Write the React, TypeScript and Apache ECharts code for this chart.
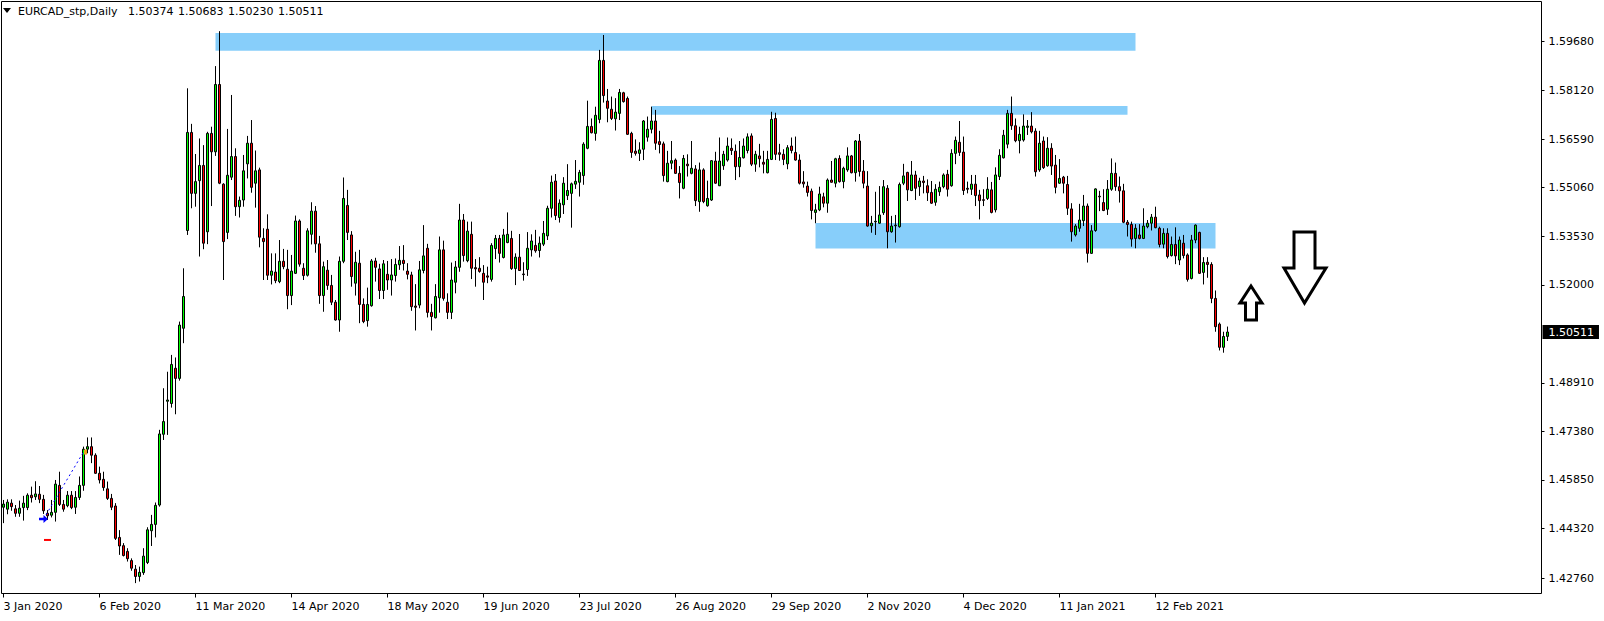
import React, { useEffect, useRef } from 'react';
import * as echarts from 'echarts';

// ---- data ----
const opens = [
1.4499,1.4493,1.4512,1.4494,1.4480,1.4498,1.4498,1.4537,1.4532,1.4540,
1.4524,1.4480,1.4474,1.4483,1.4568,1.4508,1.4504,1.4537,1.4499,1.4530,
1.4568,1.4682,1.4690,1.4663,1.4606,1.4587,1.4557,1.4527,1.4503,1.4404,
1.4378,1.4360,1.4331,1.4304,1.4281,1.4293,1.4325,1.4425,1.4445,1.4506,
1.4729,1.4833,1.4826,1.4937,1.4905,1.5063,1.5371,1.5680,1.5488,1.5528,
1.5576,1.5367,1.5677,1.5619,1.5831,1.5517,1.5365,1.5539,1.5604,1.5446,
1.5467,1.5581,1.5646,1.5520,1.5562,1.5346,1.5375,1.5230,1.5240,1.5210,
1.5274,1.5249,1.5166,1.5236,1.5401,1.5252,1.5230,1.5359,1.5432,1.5329,
1.5166,1.5246,1.5198,1.5145,1.5089,1.5274,1.5450,1.5357,1.5205,1.5268,
1.5138,1.5087,1.5134,1.5275,1.5250,1.5182,1.5233,1.5215,1.5229,1.5263,
1.5277,1.5243,1.5231,1.5133,1.5136,1.5245,1.5315,1.5113,1.5096,1.5159,
1.5310,1.5145,1.5113,1.5208,1.5255,1.5404,1.5276,1.5359,1.5254,1.5252,
1.5236,1.5228,1.5217,1.5314,1.5346,1.5286,1.5333,1.5346,1.5251,1.5287,
1.5234,1.5248,1.5310,1.5324,1.5308,1.5328,1.5354,1.5441,1.5527,1.5412,
1.5452,1.5481,1.5488,1.5517,1.5523,1.5544,1.5630,1.5699,1.5677,1.5721,
1.5907,1.5779,1.5753,1.5723,1.5740,1.5805,1.5787,1.5677,1.5621,1.5614,
1.5627,1.5665,1.5690,1.5716,1.5651,1.5644,1.5525,1.5583,1.5593,1.5551,
1.5504,1.5580,1.5551,1.5565,1.5462,1.5562,1.5449,1.5467,1.5590,1.5512,
1.5575,1.5593,1.5630,1.5621,1.5572,1.5600,1.5623,1.5669,1.5580,1.5606,
1.5586,1.5553,1.5595,1.5724,1.5616,1.5611,1.5581,1.5637,1.5617,1.5593,
1.5524,1.5511,1.5495,1.5428,1.5436,1.5477,1.5457,1.5530,1.5520,1.5598,
1.5525,1.5562,1.5606,1.5553,1.5653,1.5558,1.5511,1.5386,1.5398,1.5394,
1.5427,1.5504,1.5367,1.5386,1.5383,1.5520,1.5554,1.5497,1.5546,1.5509,
1.5527,1.5512,1.5491,1.5460,1.5493,1.5509,1.5548,1.5512,1.5614,1.5649,
1.5618,1.5504,1.5501,1.5517,1.5483,1.5468,1.5472,1.5499,1.5436,1.5541,
1.5600,1.5643,1.5740,1.5701,1.5654,1.5656,1.5696,1.5700,1.5684,1.5562,
1.5653,1.5575,1.5630,1.5577,1.5520,1.5539,1.5516,1.5439,1.5357,1.5378,
1.5402,1.5448,1.5299,1.5371,1.5479,1.5459,1.5438,1.5501,1.5551,1.5509,
1.5496,1.5397,1.5390,1.5346,1.5357,1.5346,1.5383,1.5394,1.5413,1.5378,
1.5328,1.5362,1.5292,1.5327,1.5278,1.5331,1.5294,1.5220,1.5341,1.5365,
1.5239,1.5271,1.5264,1.5157,1.5076,1.5003,1.50374
];
const highs = [
1.4522,1.4524,1.4524,1.4506,1.4520,1.4535,1.4543,1.4564,1.4581,1.4566,
1.4538,1.4490,1.4522,1.4585,1.4611,1.4522,1.4550,1.4550,1.4550,1.4596,
1.4690,1.4719,1.4719,1.4669,1.4627,1.4611,1.4580,1.4541,1.4512,1.4427,
1.4386,1.4370,1.4338,1.4317,1.4312,1.4370,1.4436,1.4475,1.4514,1.4743,
1.4874,1.4926,1.4979,1.4971,1.5084,1.5252,1.5819,1.5707,1.5612,1.5661,
1.5640,1.5682,1.5698,1.5889,1.5999,1.5520,1.5691,1.5798,1.5630,1.5478,
1.5609,1.5669,1.5719,1.5623,1.5569,1.5378,1.5422,1.5299,1.5299,1.5341,
1.5313,1.5310,1.5294,1.5418,1.5406,1.5268,1.5378,1.5460,1.5448,1.5354,
1.5273,1.5278,1.5231,1.5152,1.5289,1.5538,1.5499,1.5369,1.5304,1.5310,
1.5157,1.5191,1.5281,1.5285,1.5266,1.5278,1.5275,1.5281,1.5283,1.5322,
1.5325,1.5268,1.5241,1.5202,1.5275,1.5388,1.5329,1.5140,1.5202,1.5352,
1.5339,1.5173,1.5270,1.5275,1.5455,1.5423,1.5399,1.5399,1.5281,1.5287,
1.5262,1.5257,1.5331,1.5357,1.5357,1.5376,1.5428,1.5370,1.5299,1.5360,
1.5271,1.5366,1.5359,1.5373,1.5352,1.5401,1.5449,1.5544,1.5549,1.5469,
1.5539,1.5580,1.5522,1.5593,1.5562,1.5649,1.5780,1.5724,1.5761,1.5940,
1.5987,1.5817,1.5793,1.5788,1.5817,1.5808,1.5793,1.5682,1.5658,1.5649,
1.5719,1.5730,1.5761,1.5751,1.5685,1.5651,1.5622,1.5653,1.5598,1.5574,
1.5609,1.5611,1.5653,1.5577,1.5585,1.5567,1.5528,1.5593,1.5619,1.5664,
1.5622,1.5664,1.5661,1.5642,1.5653,1.5661,1.5677,1.5677,1.5622,1.5644,
1.5622,1.5622,1.5745,1.5742,1.5644,1.5627,1.5640,1.5664,1.5667,1.5611,
1.5558,1.5525,1.5503,1.5455,1.5509,1.5490,1.5535,1.5590,1.5600,1.5608,
1.5572,1.5633,1.5609,1.5656,1.5675,1.5593,1.5558,1.5417,1.5493,1.5511,
1.5530,1.5514,1.5417,1.5420,1.5522,1.5581,1.5556,1.5590,1.5559,1.5537,
1.5543,1.5532,1.5527,1.5517,1.5525,1.5551,1.5562,1.5627,1.5667,1.5716,
1.5667,1.5525,1.5546,1.5546,1.5499,1.5501,1.5539,1.5524,1.5570,1.5627,
1.5688,1.5751,1.5793,1.5724,1.5698,1.5737,1.5719,1.5744,1.5693,1.5685,
1.5667,1.5665,1.5646,1.5609,1.5596,1.5543,1.5543,1.5457,1.5391,1.5455,
1.5483,1.5456,1.5388,1.5504,1.5496,1.5501,1.5530,1.5598,1.5585,1.5541,
1.5518,1.5404,1.5399,1.5391,1.5391,1.5441,1.5404,1.5423,1.5446,1.5383,
1.5378,1.5378,1.5352,1.5381,1.5352,1.5357,1.5299,1.5357,1.5390,1.5367,
1.5287,1.5287,1.5271,1.5182,1.5081,1.5052,1.50683
];
const lows = [
1.4449,1.4477,1.4488,1.4469,1.4469,1.4457,1.4490,1.4514,1.4522,1.4512,
1.4478,1.4459,1.4467,1.4454,1.4503,1.4485,1.4499,1.4493,1.4478,1.4522,
1.4551,1.4669,1.4638,1.4604,1.4574,1.4551,1.4522,1.4490,1.4396,1.4349,
1.4344,1.4328,1.4299,1.4260,1.4265,1.4286,1.4320,1.4377,1.4404,1.4501,
1.4711,1.4727,1.4813,1.4792,1.4898,1.5016,1.5357,1.5441,1.5446,1.5289,
1.5312,1.5328,1.5448,1.5606,1.5517,1.5215,1.5344,1.5530,1.5417,1.5412,
1.5446,1.5535,1.5490,1.5443,1.5318,1.5215,1.5215,1.5201,1.5205,1.5205,
1.5249,1.5123,1.5136,1.5234,1.5257,1.5215,1.5226,1.5327,1.5301,1.5140,
1.5115,1.5184,1.5136,1.5087,1.5052,1.5268,1.5341,1.5194,1.5166,1.5079,
1.5079,1.5068,1.5131,1.5210,1.5155,1.5155,1.5184,1.5166,1.5210,1.5247,
1.5245,1.5217,1.5118,1.5056,1.5126,1.5236,1.5097,1.5056,1.5094,1.5112,
1.5150,1.5092,1.5092,1.5173,1.5241,1.5273,1.5271,1.5218,1.5194,1.5238,
1.5152,1.5205,1.5210,1.5281,1.5270,1.5283,1.5331,1.5247,1.5199,1.5245,
1.5213,1.5228,1.5289,1.5301,1.5286,1.5322,1.5341,1.5412,1.5404,1.5396,
1.5423,1.5467,1.5380,1.5502,1.5478,1.5515,1.5627,1.5677,1.5654,1.5709,
1.5774,1.5712,1.5719,1.5686,1.5719,1.5774,1.5672,1.5600,1.5607,1.5590,
1.5593,1.5651,1.5677,1.5625,1.5614,1.5525,1.5523,1.5564,1.5549,1.5472,
1.5501,1.5541,1.5548,1.5448,1.5430,1.5457,1.5446,1.5464,1.5518,1.5511,
1.5562,1.5588,1.5609,1.5530,1.5539,1.5598,1.5614,1.5574,1.5556,1.5570,
1.5551,1.5551,1.5593,1.5593,1.5591,1.5577,1.5564,1.5614,1.5591,1.5516,
1.5506,1.5478,1.5406,1.5394,1.5432,1.5444,1.5427,1.5522,1.5507,1.5522,
1.5504,1.5556,1.5551,1.5525,1.5541,1.5504,1.5383,1.5364,1.5357,1.5392,
1.5420,1.5315,1.5364,1.5333,1.5380,1.5514,1.5464,1.5495,1.5467,1.5480,
1.5488,1.5464,1.5455,1.5449,1.5480,1.5504,1.5478,1.5509,1.5580,1.5606,
1.5483,1.5488,1.5483,1.5448,1.5406,1.5448,1.5467,1.5425,1.5428,1.5530,
1.5598,1.5630,1.5688,1.5649,1.5614,1.5651,1.5672,1.5677,1.5541,1.5556,
1.5565,1.5572,1.5546,1.5488,1.5518,1.5488,1.5420,1.5336,1.5352,1.5367,
1.5385,1.5270,1.5297,1.5367,1.5432,1.5432,1.5420,1.5496,1.5496,1.5459,
1.5394,1.5352,1.5320,1.5315,1.5343,1.5344,1.5378,1.5371,1.5378,1.5318,
1.5315,1.5283,1.5289,1.5265,1.5262,1.5283,1.5210,1.5217,1.5331,1.5234,
1.5201,1.5222,1.5142,1.5052,1.4993,1.4986,1.50230
];
const closes = [
1.4509,1.4515,1.4501,1.4480,1.4496,1.4512,1.4537,1.4529,1.4541,1.4524,
1.4488,1.4472,1.4483,1.4572,1.4508,1.4493,1.4537,1.4498,1.4530,1.4568,
1.4682,1.4690,1.4663,1.4606,1.4585,1.4561,1.4527,1.4499,1.4401,1.4377,
1.4347,1.4337,1.4307,1.4281,1.4294,1.4345,1.4428,1.4445,1.4505,1.4730,
1.4769,1.4837,1.4949,1.4905,1.5073,1.5163,1.5680,1.5488,1.5525,1.5576,
1.5331,1.5677,1.5619,1.5831,1.5520,1.5336,1.5545,1.5604,1.5446,1.5466,
1.5559,1.5646,1.5507,1.5559,1.5350,1.5336,1.5230,1.5243,1.5213,1.5274,
1.5257,1.5166,1.5243,1.5401,1.5265,1.5229,1.5370,1.5432,1.5329,1.5166,
1.5257,1.5198,1.5145,1.5089,1.5274,1.5472,1.5365,1.5226,1.5271,1.5138,
1.5084,1.5138,1.5275,1.5255,1.5182,1.5266,1.5215,1.5231,1.5264,1.5277,
1.5267,1.5233,1.5131,1.5129,1.5247,1.5291,1.5113,1.5100,1.5163,1.5310,
1.5157,1.5113,1.5215,1.5256,1.5404,1.5292,1.5369,1.5252,1.5250,1.5242,
1.5208,1.5224,1.5324,1.5346,1.5299,1.5357,1.5359,1.5251,1.5287,1.5245,
1.5232,1.5315,1.5338,1.5307,1.5331,1.5362,1.5441,1.5523,1.5418,1.5457,
1.5520,1.5497,1.5518,1.5526,1.5554,1.5643,1.5699,1.5679,1.5734,1.5907,
1.5796,1.5756,1.5724,1.5744,1.5806,1.5777,1.5674,1.5617,1.5614,1.5625,
1.5716,1.5690,1.5716,1.5646,1.5642,1.5544,1.5583,1.5591,1.5551,1.5522,
1.5598,1.5575,1.5567,1.5465,1.5562,1.5462,1.5472,1.5591,1.5520,1.5590,
1.5611,1.5637,1.5623,1.5572,1.5601,1.5637,1.5666,1.5580,1.5611,1.5597,
1.5580,1.5595,1.5721,1.5611,1.5611,1.5595,1.5632,1.5623,1.5593,1.5520,
1.5518,1.5491,1.5434,1.5436,1.5486,1.5457,1.5530,1.5523,1.5597,1.5525,
1.5567,1.5606,1.5553,1.5653,1.5557,1.5520,1.5385,1.5394,1.5400,1.5420,
1.5509,1.5367,1.5385,1.5388,1.5516,1.5543,1.5499,1.5546,1.5504,1.5527,
1.5522,1.5490,1.5457,1.5501,1.5507,1.5546,1.5501,1.5614,1.5655,1.5617,
1.5497,1.5501,1.5517,1.5481,1.5465,1.5466,1.5501,1.5428,1.5546,1.5608,
1.5671,1.5740,1.5701,1.5654,1.5674,1.5700,1.5700,1.5682,1.5556,1.5646,
1.5569,1.5630,1.5574,1.5507,1.5535,1.5520,1.5441,1.5367,1.5385,1.5404,
1.5448,1.5299,1.5370,1.5502,1.5477,1.5434,1.5501,1.5551,1.5509,1.5496,
1.5397,1.5390,1.5344,1.5378,1.5346,1.5385,1.5394,1.5413,1.5380,1.5327,
1.5362,1.5289,1.5327,1.5291,1.5341,1.5292,1.5217,1.5341,1.5388,1.5236,
1.5270,1.5264,1.5157,1.5068,1.5003,1.5037,1.50511
];

const xTickLabels = ['3 Jan 2020', '6 Feb 2020', '11 Mar 2020', '14 Apr 2020', '18 May 2020', '19 Jun 2020',
  '23 Jul 2020', '26 Aug 2020', '29 Sep 2020', '2 Nov 2020', '4 Dec 2020', '11 Jan 2021', '12 Feb 2021'];
const yTickValues = [1.4276, 1.4432, 1.4585, 1.4738, 1.4891, 1.52, 1.5353, 1.5506, 1.5659, 1.5812, 1.5968];
const lastPrice = 1.50511;
const headerSymbol = 'EURCAD_stp,Daily';
const headerOHLC = [1.50374, 1.50683, 1.5023, 1.50511];
const holidays = ['2020-12-25', '2021-01-01'];

// rectangles: [startBar, endBar, upperPrice, lowerPrice]
const zoneTop = [53, 283, 1.5993, 1.5937];
const zoneMid = [162, 281, 1.5763, 1.5736];
const zoneLow = [203, 303, 1.5395, 1.5314];
// trade history marks: [bar, price]
const tradeOpen = [10, 1.4462];
const tradeClose = [20, 1.4673];
const tradeStop = [11, 1.4396];

const FONT = 'DejaVu Sans';
const TOTAL_SLOTS = 385;

function buildDates(n: number): string[] {
  const out: string[] = [];
  const d = new Date(Date.UTC(2020, 0, 3));
  while (out.length < n) {
    const wd = d.getUTCDay();
    const iso = d.toISOString().slice(0, 10);
    if (wd !== 0 && wd !== 6 && holidays.indexOf(iso) < 0) out.push(iso);
    d.setUTCDate(d.getUTCDate() + 1);
  }
  return out;
}

export default function App() {
  const ref = useRef<HTMLDivElement>(null);
  useEffect(() => {
    if (!ref.current) return;
    const chart = echarts.init(ref.current, undefined, { renderer: 'svg' });
    const categories = buildDates(TOTAL_SLOTS);
    const candleData = opens.map((o, i) => [o, closes[i], lows[i], highs[i]]);
    const lastLabelIdx = (xTickLabels.length - 1) * 24;
    const zoneArea = (z: number[]) => [
      { xAxis: z[0], yAxis: z[2] },
      { xAxis: z[1], yAxis: z[3] },
    ];
    const headerTexts = headerOHLC.map((v, k) => ({
      type: 'text', x: 128 + k * 50, y: 11,
      style: { text: v.toFixed(5), fill: '#000', font: '11px "DejaVu Sans"', textVerticalAlign: 'middle' },
    }));
    const option: any = {
      animation: false,
      backgroundColor: '#ffffff',
      grid: {
        left: 1.5, top: 1.5, width: 1540, height: 592,
        show: true, borderColor: '#000', borderWidth: 1, backgroundColor: '#fff',
      },
      xAxis: {
        type: 'category',
        data: categories,
        boundaryGap: true,
        axisLine: { show: false },
        axisTick: {
          show: true, alignWithLabel: true, length: 4,
          interval: (i: number) => i % 24 === 0 && i <= lastLabelIdx,
          lineStyle: { color: '#000' },
        },
        axisLabel: {
          show: true,
          interval: (i: number) => i % 24 === 0 && i <= lastLabelIdx,
          formatter: (_v: string, i: number) => (i % 24 === 0 && i <= lastLabelIdx ? xTickLabels[i / 24] : ''),
          align: 'left', margin: 7, color: '#000', fontSize: 11, fontFamily: FONT,
        },
        splitLine: { show: false },
      },
      yAxis: {
        type: 'value',
        position: 'right',
        min: 1.42273,
        max: 1.60925,
        axisLine: { show: false },
        splitLine: { show: false },
        axisTick: {
          show: true, length: 3, lineStyle: { color: '#000' },
          customValues: yTickValues,
        },
        axisLabel: {
          show: true,
          customValues: [...yTickValues, lastPrice],
          margin: 1,
          formatter: (v: number) =>
            Math.abs(v - lastPrice) < 1e-7 ? '{cur|' + lastPrice.toFixed(5) + '}' : '{n|' + v.toFixed(5) + '}',
          rich: {
            n: { color: '#000', fontSize: 11, fontFamily: FONT, padding: [0, 0, 0, 6] },
            cur: { color: '#fff', backgroundColor: '#000', fontSize: 11, fontFamily: FONT, padding: [2, 5, 1, 6] },
          },
        },
      },
      series: [
        {
          type: 'candlestick',
          data: candleData,
          barWidth: 2,
          itemStyle: {
            color: '#00ff00', color0: '#ff0000',
            borderColor: '#000', borderColor0: '#000', borderColorDoji: '#000', borderWidth: 1,
          },
          markArea: {
            silent: true,
            itemStyle: { color: '#87cefa', opacity: 1 },
            data: [zoneArea(zoneTop), zoneArea(zoneMid), zoneArea(zoneLow)],
          },
          markLine: {
            silent: true, symbol: ['none', 'none'],
            label: { show: false },
            lineStyle: { color: '#0000ff', width: 1, type: [2, 3] },
            data: [[{ coord: tradeOpen }, { coord: tradeClose }]],
          },
          markPoint: {
            silent: true,
            label: { show: false },
            data: [
              { coord: tradeOpen, symbol: 'path://M0,3 L5,3 L5,0 L10,4.5 L5,9 L5,6 L0,6 Z', symbolSize: [9, 8], itemStyle: { color: '#0000ff' } },
              { coord: tradeStop, symbol: 'rect', symbolSize: [7, 2], itemStyle: { color: '#ff0000' } },
              { coord: [tradeClose[0] + 1, tradeClose[1]], symbol: 'rect', symbolSize: [3, 5], symbolOffset: [-2, 0], itemStyle: { color: '#e8a317' } },
            ],
          },
        },
      ],
      graphic: [
        { type: 'polygon', shape: { points: [[3, 8], [11, 8], [7, 13]] }, style: { fill: '#000' } },
        { type: 'text', x: 18, y: 11, style: { text: headerSymbol, fill: '#000', font: '11px "DejaVu Sans"', textVerticalAlign: 'middle' } },
        ...headerTexts,
        {
          type: 'polygon', z: 10,
          shape: { points: [[1251, 286], [1262, 303], [1256.5, 303], [1256.5, 320], [1245.5, 320], [1245.5, 303], [1240, 303]] },
          style: { fill: '#fff', stroke: '#000', lineWidth: 3 },
        },
        {
          type: 'polygon', z: 10,
          shape: { points: [[1294, 232], [1315, 232], [1315, 268], [1326, 268], [1304.5, 303], [1284, 268], [1294, 268]] },
          style: { fill: '#fff', stroke: '#000', lineWidth: 3 },
        },
      ],
    };
    chart.setOption(option);
    return () => chart.dispose();
  }, []);
  return <div ref={ref} style={{ position: 'absolute', left: 0, top: 0, width: 1604, height: 621 }} />;
}
